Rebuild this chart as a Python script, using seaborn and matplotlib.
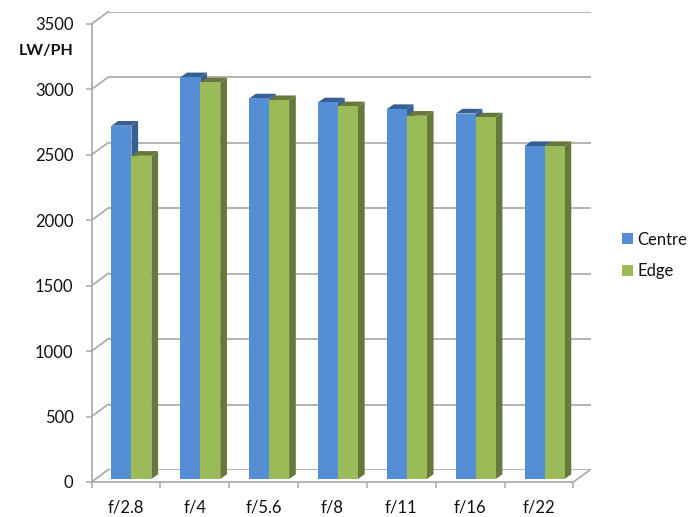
import matplotlib
matplotlib.use("Agg")
import matplotlib.pyplot as plt
import pandas as pd
import seaborn as sns
from matplotlib.patches import Polygon

apertures = ["f/2.8", "f/4", "f/5.6", "f/8", "f/11", "f/16", "f/22"]
centre = [2700, 3070, 2908, 2878, 2827, 2793, 2544]
edge = [2470, 3031, 2895, 2848, 2776, 2763, 2544]
y_ticks = [0, 500, 1000, 1500, 2000, 2500, 3000, 3500]

W, H = 695, 517
GRID = "#a8a8a8"
FRONT = {"Centre": "#558ed5", "Edge": "#9bbb59"}
SIDE = {"Centre": "#376092", "Edge": "#66783c"}

sns.set_theme(style="white")
plt.rcParams["font.family"] = ["Lato", "DejaVu Sans"]
plt.rcParams["text.color"] = "#111111"


def px_axes(fig, left, right, top, bottom):
    return fig.add_axes([left / W, 1 - bottom / H, (right - left) / W, (bottom - top) / H])


fig = plt.figure(figsize=(W / 100, H / 100), dpi=100, facecolor="white")

# Back wall with gridlines
back = px_axes(fig, 108.5, 591, 11.5, 470)
back.set_xlim(-0.5, 6.5)
back.set_ylim(0, 3500)
back.set_xticks([])
back.set_yticks(y_ticks)
back.tick_params(left=False, labelleft=False)
back.grid(axis="y", color=GRID, lw=1.2)
back.set_axisbelow(True)
for s in back.spines.values():
    s.set_visible(False)
back.patch.set_alpha(0)

# Front plane with the axes and labels
front = px_axes(fig, 91.5, 573.5, 24, 482)
front.set_xlim(-0.5, 6.5)
front.set_ylim(0, 3500)
front.patch.set_alpha(0)
front.set_yticks(y_ticks)
front.set_xticks([i - 0.5 for i in range(8)])
front.set_xticklabels([])
front.set_xticks(range(7), labels=apertures, minor=True)
front.tick_params(axis="y", left=True, length=4.3, width=1.1, color=GRID, labelsize=12, pad=8.6, labelcolor="#111111")
front.tick_params(axis="x", which="major", bottom=True, length=4.3, width=1.1, color=GRID)
front.tick_params(axis="x", which="minor", bottom=False, labelsize=12, pad=8.6, labelcolor="#111111")
for name, s in front.spines.items():
    s.set_visible(name in ("left", "bottom"))
    s.set_color(GRID)
    s.set_linewidth(1.2)

# Wall/floor depth diagonals
dx_wall = 17 / 482 * 7
dy_wall = 12.5 / 458 * 3500
for t in y_ticks:
    front.plot([-0.5, -0.5 + dx_wall], [t, t + dy_wall], color=GRID, lw=1.2, clip_on=False)
front.plot([6.5, 6.5 + dx_wall], [0, dy_wall], color=GRID, lw=1.2, clip_on=False)

# Bars, on a plane slightly behind the front one
bars = px_axes(fig, 97, 579, 21, 479)
df = pd.DataFrame({
    "Aperture": apertures * 2,
    "LW/PH": centre + edge,
    "Series": ["Centre"] * len(centre) + ["Edge"] * len(edge),
})
sns.barplot(data=df, x="Aperture", y="LW/PH", hue="Series", palette=FRONT, ax=bars,
            width=0.58, gap=0, saturation=1, linewidth=0, legend=True)
bars.set_xlim(-0.5, 6.5)
bars.set_ylim(0, 3500)
bars.patch.set_alpha(0)
bars.set_xticks([])
bars.set_yticks([])
bars.set_xlabel("")
bars.set_ylabel("")
for s in bars.spines.values():
    s.set_visible(False)

# Extruded side and top faces taken from the drawn bars
dx = 6.7 / 482 * 7
dy = 4.7 / 458 * 3500
z = 3
for container, name in zip(bars.containers, ["Centre", "Edge"]):
    for p in container.patches:
        x0, w, h = p.get_x(), p.get_width(), p.get_height()
        x1 = x0 + w
        bars.add_patch(Polygon([(x1, 0), (x1 + dx, dy), (x1 + dx, h + dy), (x1, h)],
                               closed=True, fc=SIDE[name], ec="none", zorder=z))
        bars.add_patch(Polygon([(x0, h), (x0 + dx, h + dy), (x1 + dx, h + dy), (x1, h)],
                               closed=True, fc=SIDE[name], ec="none", zorder=z))
        p.set_zorder(z + 1)
    z += 2

handles, labels = bars.get_legend_handles_labels()
bars.get_legend().remove()
fig.legend(handles, labels, loc="center left", bbox_to_anchor=(614 / W, 1 - 255.5 / H),
           frameon=False, fontsize=12, handlelength=0.62, handleheight=0.62, handletextpad=0.3,
           labelspacing=0.95, borderpad=0, labelcolor="#111111")

fig.text(46 / W, 1 - 51 / H, "LW/PH", ha="center", va="center", fontsize=11.5, fontweight="bold", color="#111111")

fig.savefig("out.png", dpi=100)
